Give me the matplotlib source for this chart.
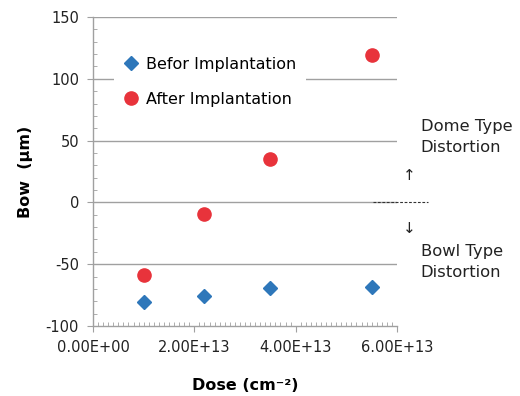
import matplotlib
matplotlib.use("Agg")
import matplotlib.pyplot as plt
from matplotlib.ticker import MultipleLocator, FuncFormatter
import matplotlib.transforms as mtransforms

dose = [1.0e13, 2.2e13, 3.5e13, 5.5e13]
bow_before = [-80.5, -75.5, -69.0, -68.5]
bow_after = [-58.5, -9.5, 35.0, 119.5]
series_labels = ["Befor Implantation", "After Implantation"]
xticks = [0, 2e13, 4e13, 6e13]
yticks = [-100, -50, 0, 50, 100, 150]

plt.rcParams['font.family'] = ['DejaVu Sans']
plt.rcParams['axes.unicode_minus'] = False
fig = plt.figure(figsize=(5.2, 3.96), dpi=100)
ax = fig.add_axes([0.1788, 0.1768, 0.5846, 0.7802])

grid_c = '#A0A0A0'
blue = '#2E77BA'
red = '#E8333B'

ax.set_xlim(0, 6e13)
ax.set_ylim(-100, 150)
ax.set_xticks(xticks)
ax.set_yticks(yticks)
ax.xaxis.set_major_formatter(FuncFormatter(lambda v, p: f"{v:.2E}"))
ax.xaxis.set_minor_locator(MultipleLocator(1e12))
ax.yaxis.set_minor_locator(MultipleLocator(10))

for y in yticks[1:]:
    ax.axhline(y, color=grid_c, lw=1.0, zorder=1)

for s in ['top', 'right']:
    ax.spines[s].set_visible(False)
for s in ['left', 'bottom']:
    ax.spines[s].set_color(grid_c)
    ax.spines[s].set_linewidth(1.0)

ax.tick_params(axis='both', which='major', direction='out', length=4, color=grid_c,
               labelsize=10.5, pad=6, labelcolor='#222222')
ax.tick_params(axis='both', which='minor', direction='in', length=3, color=grid_c)

ax.plot(dose, bow_before, linestyle='none', marker='D', ms=7.5, color=blue,
        label=series_labels[0], zorder=5)
ax.plot(dose, bow_after, linestyle='none', marker='o', ms=9.5, color=red,
        label=series_labels[1], zorder=5)

leg = ax.legend(loc='upper left', bbox_to_anchor=(0.068, 0.905), frameon=True,
                facecolor='white', edgecolor='none', framealpha=1.0,
                fontsize=11.5, labelspacing=1.25, handlelength=0.9,
                handletextpad=0.45, borderpad=0.65, borderaxespad=0, fancybox=False)
leg.set_zorder(3)

ax.set_xlabel("Dose (cm⁻²)", fontsize=11.5, fontweight='bold', labelpad=17)
ax.set_ylabel("Bow  (μm)", fontsize=11.5, fontweight='bold', labelpad=9)

trans = mtransforms.blended_transform_factory(ax.transAxes, ax.transData)
ax.plot([0.921, 1.102], [0, 0], transform=trans, color='#333333', lw=0.8,
        linestyle=(0, (2.5, 1.5)), clip_on=False, zorder=2)
ax.text(1.04, 22, "↑", transform=trans, ha='center', va='center', fontsize=11, color='#222222')
ax.text(1.04, -21.5, "↓", transform=trans, ha='center', va='center', fontsize=11, color='#222222')
ax.text(1.078, 53, "Dome Type\nDistortion", transform=trans, ha='left', va='center',
        fontsize=11.8, linespacing=1.5, color='#222222')
ax.text(1.078, -48.5, "Bowl Type\nDistortion", transform=trans, ha='left', va='center',
        fontsize=11.8, linespacing=1.5, color='#222222')

fig.savefig("out.png", dpi=100)
